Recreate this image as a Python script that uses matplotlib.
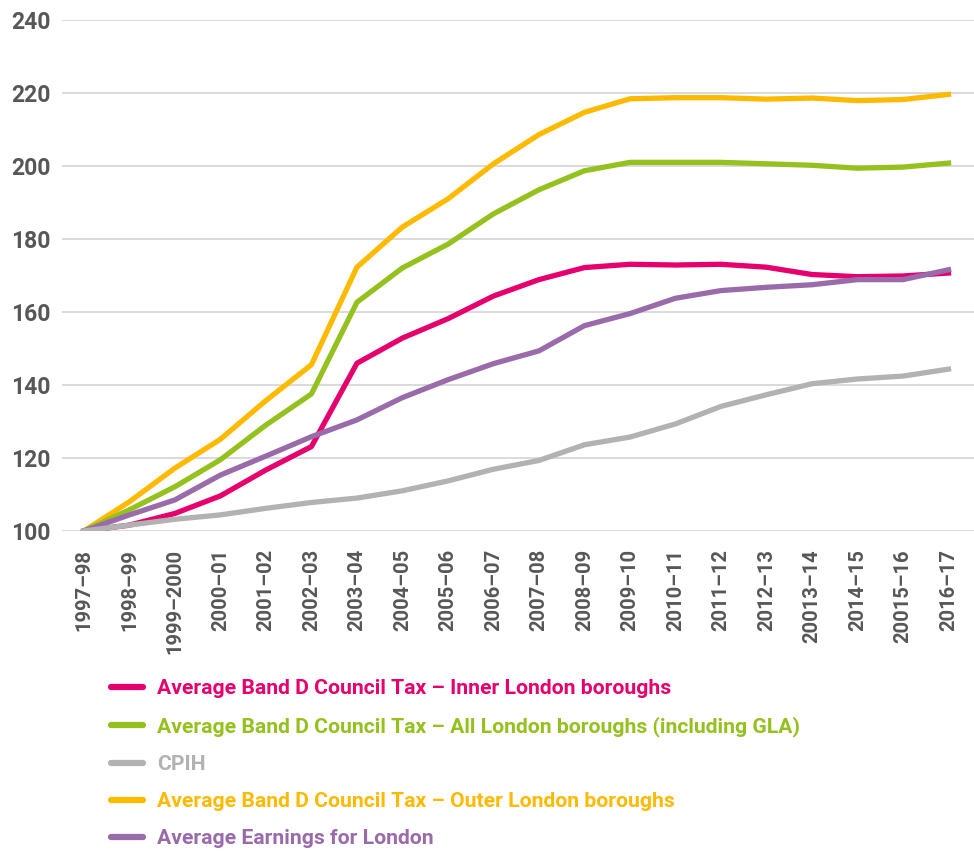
import matplotlib.pyplot as plt
from matplotlib.lines import Line2D

years = ["1997–98", "1998–99", "1999–2000", "2000–01", "2001–02", "2002–03",
         "2003–04", "2004–05", "2005–06", "2006–07", "2007–08", "2008–09",
         "2009–10", "2010–11", "2011–12", "2012–13", "20013–14", "2014–15",
         "20015–16", "2016–17"]

# index, 1997-98 = 100
inner = [100, 101.6, 104.8, 109.6, 116.7, 123.1, 145.9, 152.8, 158.1, 164.3,
         168.8, 172.1, 173.0, 172.8, 173.0, 172.2, 170.2, 169.6, 169.8, 170.6]
all_london = [100, 105.8, 112.1, 119.5, 129.0, 137.5, 162.6, 172.0, 178.5, 186.8,
              193.4, 198.6, 200.9, 200.9, 200.9, 200.5, 200.1, 199.3, 199.6, 200.7]
cpih = [100, 101.6, 103.2, 104.4, 106.2, 107.8, 109.0, 111.0, 113.7, 116.9,
        119.3, 123.6, 125.7, 129.3, 134.1, 137.3, 140.3, 141.6, 142.4, 144.3]
outer = [100, 108.0, 117.2, 125.1, 135.7, 145.5, 172.2, 183.2, 190.9, 200.5,
         208.5, 214.6, 218.3, 218.6, 218.6, 218.2, 218.5, 217.8, 218.1, 219.5]
earnings = [100, 104.4, 108.5, 115.3, 120.5, 125.8, 130.4, 136.5, 141.4, 145.8,
            149.3, 156.2, 159.5, 163.7, 165.8, 166.7, 167.4, 168.8, 168.8, 171.5]

labels = ["Average Band D Council Tax – Inner London boroughs",
          "Average Band D Council Tax – All London boroughs (including GLA)",
          "CPIH",
          "Average Band D Council Tax – Outer London boroughs",
          "Average Earnings for London"]
colours = ["#E5006D", "#95C11F", "#B2B2B2", "#FDBA00", "#9A6BAA"]
text_grey = "#575756"

fig = plt.figure(figsize=(9.74, 8.52), dpi=100)
ax = fig.add_axes([0.0637, 0.3768, 0.9363, 0.6003])

x = list(range(len(years)))
lw = 3.8
ax.plot(x, outer, color=colours[3], lw=lw, zorder=3)
ax.plot(x, all_london, color=colours[1], lw=lw, zorder=3)
ax.plot(x, inner, color=colours[0], lw=lw, zorder=3)
ax.plot(x, earnings, color=colours[4], lw=lw, zorder=4)
ax.plot(x, cpih, color=colours[2], lw=lw, zorder=5)

ax.set_xlim(-0.48, 19.56)
ax.set_ylim(100, 240)
ax.set_yticks(range(100, 241, 20))
ax.set_xticks(x)
ax.set_xticklabels(years, rotation=90, va="top", ha="center")
ax.grid(axis="y", color="#DADADA", lw=1.4)
ax.set_axisbelow(True)
for s in ax.spines.values():
    s.set_visible(False)
ax.tick_params(length=0)
ax.tick_params(axis="y", pad=8, labelsize=16.5, labelcolor=text_grey)
ax.tick_params(axis="x", pad=13, labelsize=14.5, labelcolor=text_grey)
for t in ax.get_yticklabels() + ax.get_xticklabels():
    t.set_fontweight("bold")
    t.set_fontfamily("Roboto")

handles = [Line2D([], [], color=c, lw=4.5, solid_capstyle="round") for c in colours]
leg = fig.legend(handles, labels, loc="upper left", bbox_to_anchor=(0.114, 0.203),
                 frameon=False, handlelength=1.5, handletextpad=0.7,
                 labelspacing=0.86, borderaxespad=0, borderpad=0,
                 prop={"family": "Roboto", "weight": "bold", "size": 15.2})
for txt, c in zip(leg.get_texts(), colours):
    txt.set_color(c)

fig.savefig("out.png", dpi=100)
